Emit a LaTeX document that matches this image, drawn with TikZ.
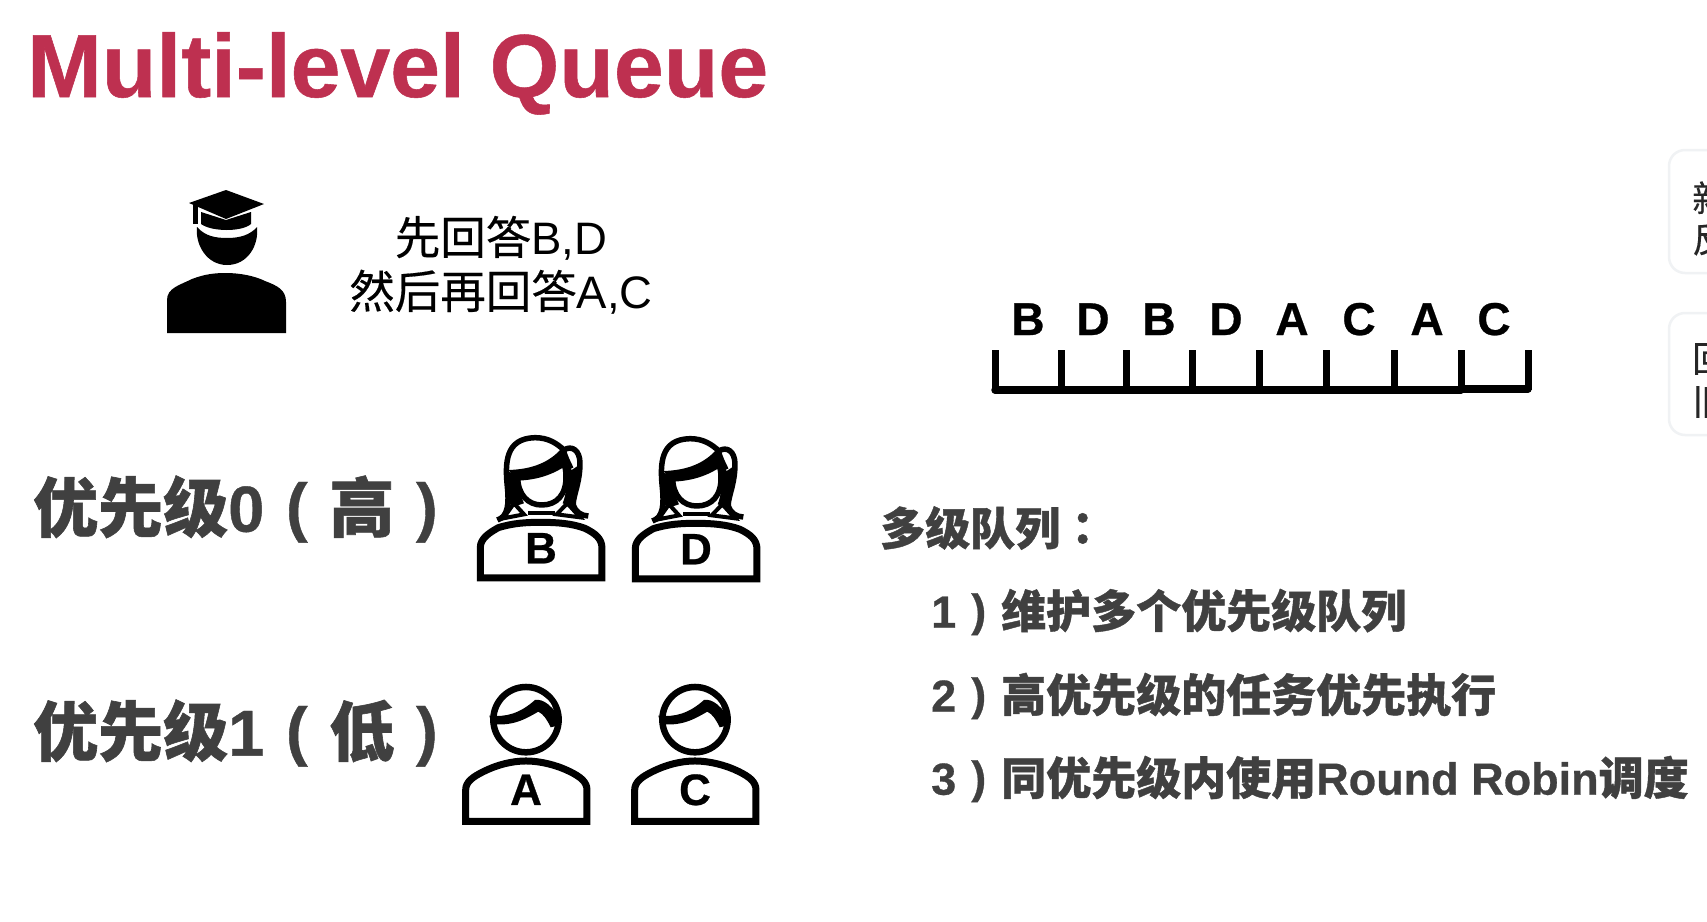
\documentclass[tikz,border=0pt]{standalone}
\usepackage{fontspec}
\setmainfont{Liberation Sans}[BoldFeatures={FakeBold=0.6}]
\newfontfamily\cjkfam{Noto Sans CJK SC}[UprightFeatures={FakeBold=0.35},BoldFeatures={FakeBold=0.9}]
\newfontfamily\cjkpunct{Noto Sans CJK TC}[BoldFeatures={FakeBold=0.9}]
\newcommand{\zh}[1]{{\cjkfam #1}}
\newcommand{\zp}[1]{{\cjkpunct #1}}
\newcommand{\lpar}{\makebox[1em][c]{\raisebox{0.04em}{(}}}
\newcommand{\rpar}{\makebox[1em][c]{\raisebox{0.04em}{)}}}
\definecolor{titlered}{HTML}{BE3050}
\definecolor{slategray}{HTML}{404040}
\definecolor{boxedge}{HTML}{F0F2F4}
\tikzset{
  titletext/.style={anchor=base west,inner sep=0pt,text=titlered,font=\fontsize{89.5}{100}\selectfont\bfseries},
  speech/.style={inner sep=0pt,align=center,font=\fontsize{45.5}{54}\selectfont},
  priotext/.style={anchor=west,inner sep=0pt,text=slategray,font=\fontsize{65}{70}\selectfont\bfseries},
  notetext/.style={anchor=west,inner sep=0pt,text=slategray,font=\fontsize{45}{50}\selectfont\bfseries},
  personletter/.style={anchor=base,inner sep=0pt,font=\fontsize{44}{48}\selectfont\bfseries},
  slotletter/.style={anchor=base,inner sep=0pt,font=\fontsize{46}{48}\selectfont\bfseries},
  slottick/.style={line width=7pt},
  slotfloor/.style={line width=7.5pt,line cap=round},
  iconline/.style={line width=7pt,line join=miter},
  hairline/.style={line width=5.5pt,line join=round},
  sidebox/.style={draw=boxedge,line width=2.5pt,rounded corners=16pt},
  sidetext/.style={anchor=west,inner sep=0pt,text=black!85,font=\fontsize{36}{38}\selectfont},
}
% B position in zoom coordinates; shifts give the other figure
\newcommand{\femaleicon}[4]{%
  \begin{scope}[shift={(440+#1,420+#2)},x=0.3333pt,y=-0.3333pt]
    \draw[iconline] (121,474) -- (121,382) .. controls (121,355) and (150,337) .. (175,323)
      .. controls (220,309) and (260,307) .. (303,307)
      .. controls (350,307) and (395,310) .. (435,325)
      .. controls (465,340) and (486,355) .. (486,385) -- (486,474) -- cycle;
    \fill (196,150) -- (236,170) .. controls (238,200) and (240,225) .. (252,250)
      -- (214,262) -- (203,230) -- cycle;
    \fill (378,125) -- (395,150) -- (425,130) .. controls (425,190) and (405,230) .. (405,262)
      -- (368,250) .. controls (378,225) and (384,190) .. (378,125) -- cycle;
    \draw[hairline] (233,170) .. controls (233,225) and (265,255) .. (305,255)
      .. controls (350,255) and (380,225) .. (378,165) .. controls (377,140) and (370,120) .. (360,105);
    \draw[hairline] (172,300) .. controls (205,290) and (207,250) .. (202,200)
      .. controls (195,130) and (195,55) .. (285,53) .. controls (325,53) and (350,70) .. (372,90)
      .. controls (395,75) and (420,90) .. (420,130) .. controls (420,190) and (398,230) .. (400,255)
      .. controls (405,275) and (425,288) .. (445,288);
    \fill (205,150) .. controls (280,148) and (330,125) .. (365,85) -- (388,130)
      .. controls (340,165) and (290,180) .. (232,182) -- cycle;
    \draw[line width=4pt] (372,90) .. controls (378,110) and (385,125) .. (395,145);
    \draw[line width=4pt] (190,295) -- (222,250) -- (252,283) -- cycle;
    \draw[line width=4pt] (420,292) -- (382,250) -- (350,283) -- cycle;
    \draw[line width=4pt] (265,280) -- (345,280);
    \node[personletter] (#4) at (303,430) {#3};
  \end{scope}}
% A position in zoom coordinates
\newcommand{\maleicon}[4]{%
  \begin{scope}[shift={(440+#1,420+#2)},x=0.3333pt,y=-0.3333pt]
    \draw[iconline] (77,1204) -- (77,1110) .. controls (77,1085) and (100,1070) .. (130,1055)
      .. controls (170,1035) and (215,1023) .. (258,1023)
      .. controls (300,1023) and (350,1035) .. (390,1055)
      .. controls (420,1070) and (441,1085) .. (441,1110) -- (441,1204) -- cycle;
    \draw[line width=6.5pt] (258,899) circle[radius=98];
    \fill (148,887) .. controls (200,892) and (240,880) .. (285,840)
      .. controls (310,835) and (340,860) .. (362,900) -- (362,915) -- (332,922)
      .. controls (322,900) and (310,882) .. (295,875)
      .. controls (260,895) and (220,920) .. (155,912) -- cycle;
    \draw[white,line width=1.5pt] (298,832) .. controls (315,830) and (328,845) .. (335,860);
    \node[personletter] (#4) at (258,1155) {#3};
  \end{scope}}
\begin{document}
\begin{tikzpicture}[x=1pt,y=-1pt]
\useasboundingbox (0,0) rectangle (1707,921);
\fill[white] (0,0) rectangle (1707,921);

\node[titletext] (title) at (27,97) {Multi-level Queue};

% teacher
\fill (167,333) -- (167,300) .. controls (167,288) and (180,285) .. (192,279)
  .. controls (205,274) and (215,273) .. (226,273)
  .. controls (240,273) and (255,276) .. (265,281)
  .. controls (278,286) and (286,290) .. (286,302) -- (286,333) -- cycle;
\fill (197,227) .. controls (205,236) and (215,238) .. (227,238)
  .. controls (240,238) and (250,235) .. (257,227)
  .. controls (259,245) and (248,265) .. (227,265)
  .. controls (207,265) and (195,245) .. (197,227) -- cycle;
\fill (201,212) -- (226,220) -- (251,212) -- (251,224)
  .. controls (242,232) and (212,232) .. (201,224) -- cycle;
\fill (189,203) -- (226,190) -- (264,204) -- (226,219) -- cycle;
\fill (193,205) rectangle (198,224);

\node[speech] (answer) at (501,265) {\zh{先回答}B,D\\\zh{然后再回答}A,C};

% priority labels
\node[priotext] (prio0) at (33,509) {\zh{优先级}0\lpar\zh{高}\rpar};
\node[priotext] (prio1) at (33,733) {\zh{优先级}1\lpar\zh{低}\rpar};

% people
\femaleicon{0}{0}{B}{personB}
\femaleicon{155}{1}{D}{personD}
\maleicon{0}{0}{A}{personA}
\maleicon{169}{0}{C}{personC}

% queue
\foreach \nm/\x/\t in {s1/1028/B,s2/1093/D,s3/1159/B,s4/1226/D,s5/1292/A,s6/1359/C,s7/1427/A,s8/1494/C}
  \node[slotletter] (\nm) at (\x,335) {\t};
\foreach \x in {995,1061,1126,1192,1259,1326,1394,1461,1528}
  \draw[slottick] (\x,350) -- (\x,390);
\draw[slotfloor] (995,390) -- (1461,390);
\draw[slotfloor] (1461,389) -- (1528,389);

% notes
\node[notetext] (note0) at (880,528) {\zh{多级队列}\zp{：}};
\node[notetext] (note1) at (931,612) {1\rpar\zh{维护多个优先级队列}};
\node[notetext] (note2) at (931,696) {2\rpar\zh{高优先级的任务优先执行}};
\node[notetext] (note3) at (931,779) {3\rpar\zh{同优先级内使用}Round Robin\zh{调度}};

% cropped side boxes
\begin{scope}
  \clip (0,0) rectangle (1707,921);
  \draw[sidebox] (1669,150) rectangle (1780,273);
  \draw[sidebox] (1669,313) rectangle (1780,435);
  \node[sidetext] (side1) at (1692,198) {\zh{新}};
  \node[sidetext] (side2) at (1692,239) {\zh{反}};
  \node[sidetext] (side3) at (1692,359) {\zh{回}};
  \node[sidetext] (side4) at (1692,402) {\zh{旧}};
\end{scope}
\end{tikzpicture}
\end{document}
